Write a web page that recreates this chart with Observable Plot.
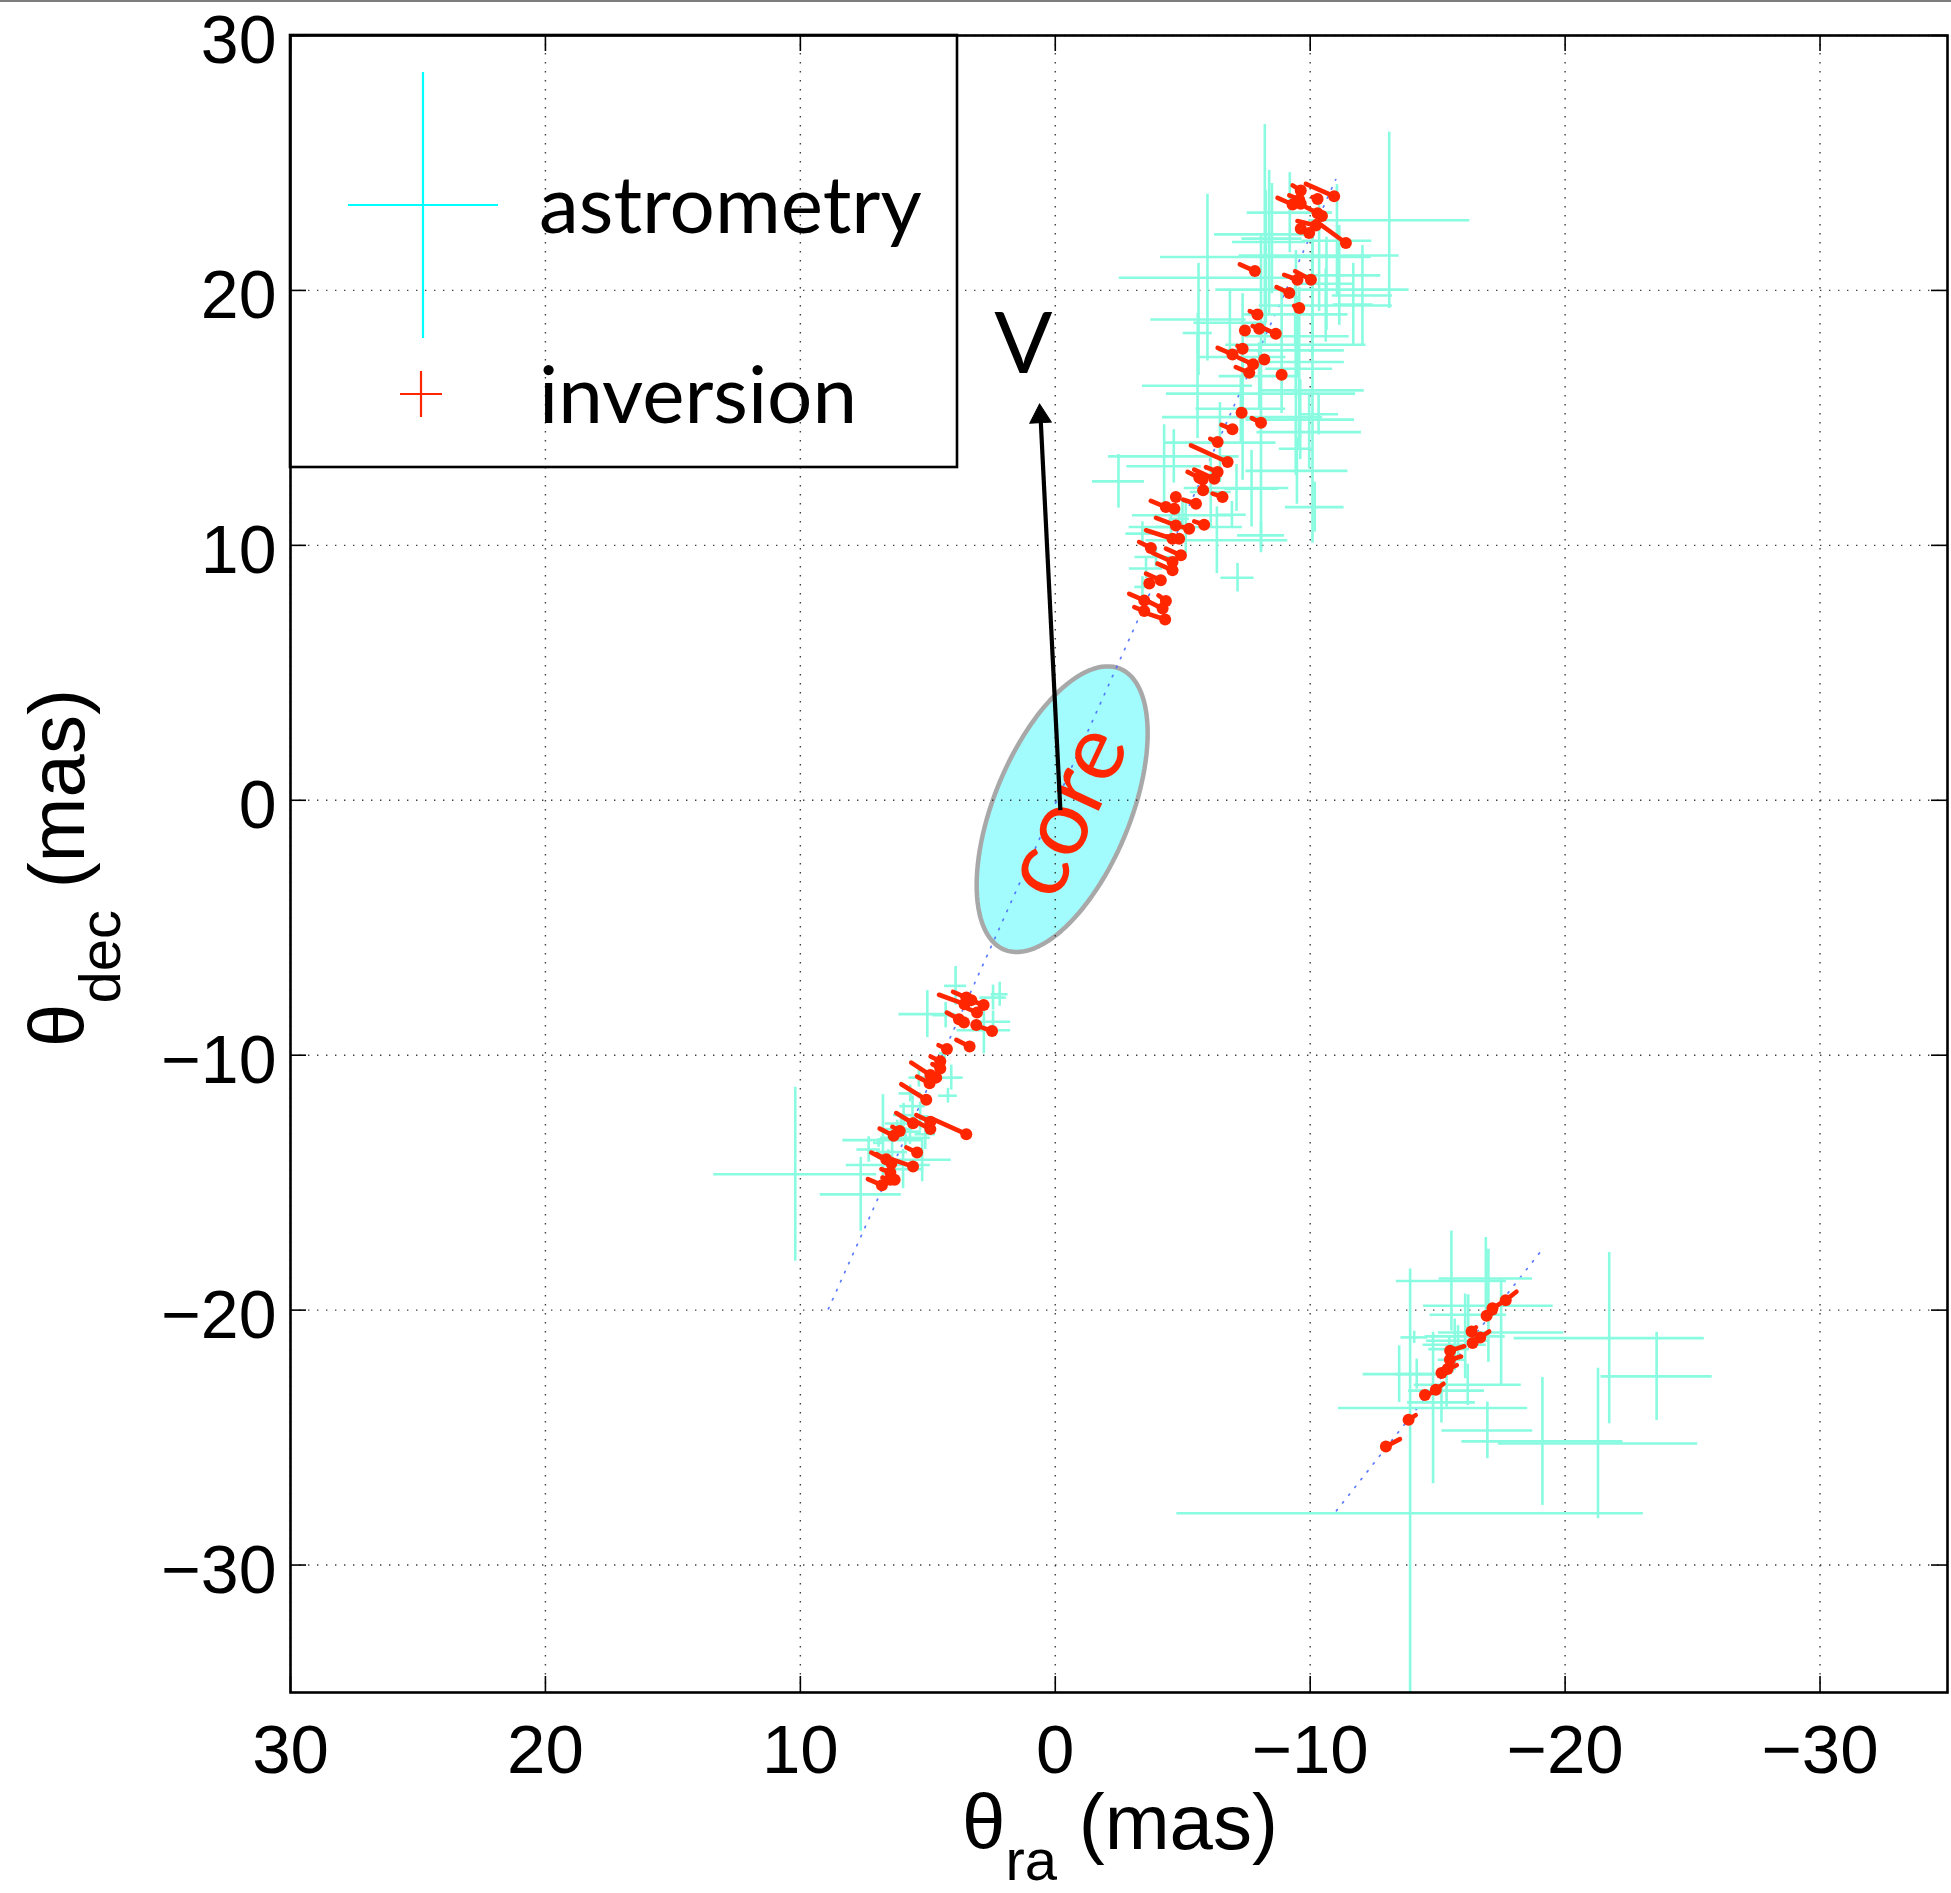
<!DOCTYPE html>
<html><head><meta charset="utf-8">
<script src="https://cdn.jsdelivr.net/npm/d3@7"></script>
<script src="https://cdn.jsdelivr.net/npm/@observablehq/plot@0.6"></script>
<style>
html,body{margin:0;padding:0;background:#fff;}
#wrap{position:relative;width:1951px;height:1893px;overflow:hidden;background:#fff;}
#wrap svg{position:absolute;left:0;top:0;}
#topline{position:absolute;left:0;top:0;width:1951px;height:2px;background:#7d7d7d;z-index:2;}
</style></head><body><div id="wrap"><div id="topline"></div></div>
<script>
// ---- axes ----
const xTicks = [30, 20, 10, 0, -10, -20, -30];
const yTicks = [30, 20, 10, 0, -10, -20, -30];
const xDomain = [30, -35];
const yDomain = [-35, 30];

// ---- astrometry crosses: [ra, dec, raErr, decErr] (mas) ----
const astroNorth = [
  [-13.10,22.75,3.16,3.46],[-8.22,22.20,1.97,4.31],[-9.20,23.05,1.67,1.57],[-10.35,21.37,3.14,2.20],
  [-8.26,21.31,4.13,2.60],[-5.97,20.50,3.46,3.27],[-11.14,20.59,1.63,1.96],[-10.09,20.03,3.79,2.60],
  [-10.61,19.41,2.61,1.44],[-9.41,19.06,2.07,1.18],[-5.62,18.86,1.87,2.20],[-6.85,18.73,1.41,1.31],
  [-5.59,18.33,0.57,0.78],[-9.50,18.20,2.03,1.57],[-9.44,17.87,2.75,2.09],[-8.88,17.65,2.46,2.48],
  [-9.44,17.19,1.90,4.38],[-8.00,16.64,1.57,1.31],[-5.58,16.26,2.16,2.07],[-8.07,15.95,3.71,6.24],
  [-10.09,16.08,2.03,6.00],[-7.28,15.36,1.76,1.31],[-7.35,15.03,3.14,2.48],[-9.61,14.93,2.13,1.57],
  [-9.96,14.44,2.05,1.44],[-6.46,14.03,2.20,1.57],[-2.48,12.51,1.02,1.05],[-4.65,13.49,2.56,1.05],
  [-4.27,13.10,1.46,1.63],[-9.48,12.92,2.00,1.31],[-10.18,11.50,1.15,0.98],[-6.93,11.20,0.56,0.52],
  [-5.12,10.72,2.22,1.05],[-6.34,10.20,2.78,1.31],[-7.70,12.22,1.05,1.50],[-11.69,19.45,0.78,1.61],
  [-12.05,19.80,1.18,1.96],[-11.05,21.95,1.37,2.20],[-8.50,22.03,1.18,2.16],[-8.39,21.90,1.44,2.81],
  [-7.35,17.39,1.70,2.48],[-9.57,16.93,1.31,3.20],[-10.33,15.14,0.78,0.81],[-10.64,20.26,1.05,1.83],
  [-7.15,8.73,0.65,0.56],[-8.07,10.39,0.92,0.52],[-7.11,12.25,2.05,0.92],[-9.44,13.79,0.65,1.05],
  [-6.10,12.09,0.80,1.37],[-3.42,10.46,0.65,0.46],[-3.95,9.54,0.82,0.39],[-3.56,9.09,0.65,0.40],
  [-3.42,8.37,0.30,0.40],[-4.54,10.72,0.60,0.50],[-4.86,11.04,0.40,0.45],[-4.99,11.18,1.96,0.60]
];
const astroSouth = [
  [10.20,-14.67,3.20,3.41],[7.63,-15.46,1.59,1.45],[6.76,-13.33,1.57,1.78],[7.32,-13.70,0.46,0.50],
  [6.93,-13.44,0.20,0.17],[5.97,-14.47,0.81,0.77],[5.22,-14.10,1.14,0.86],[5.35,-10.88,0.39,0.37],
  [5.69,-11.50,0.44,0.33],[6.05,-12.68,0.62,0.30],[5.95,-12.35,0.40,0.46],[6.55,-14.31,1.65,0.60],
  [5.88,-13.24,0.98,0.40],[3.91,-7.28,0.43,0.76],[5.02,-8.39,1.11,0.92],[4.30,-8.43,0.50,0.50],
  [2.44,-7.74,0.52,0.49],[2.18,-7.61,0.33,0.47],[2.80,-9.02,1.05,0.92],[2.44,-8.69,0.69,0.42],
  [4.08,-10.88,0.47,0.49],[4.21,-11.59,0.37,0.29],[5.60,-12.00,0.50,0.40],[5.30,-12.40,0.35,0.55],
  [6.20,-12.90,0.60,0.35],[5.70,-13.00,0.45,0.50],[5.10,-13.10,0.40,0.60],[6.40,-13.80,0.60,0.45],
  [4.34,-9.93,0.20,0.20]
];
const astroSouthEast = [
  [-13.92,-27.97,9.15,9.58],[-21.29,-25.23,3.91,2.95],[-21.73,-21.10,3.73,3.36],[-23.59,-22.60,2.18,1.73],
  [-19.11,-25.15,3.16,2.51],[-16.95,-24.72,1.78,1.11],[-16.99,-19.83,2.54,2.22],[-16.89,-18.76,1.83,1.61],
  [-15.54,-18.86,2.16,1.96],[-17.49,-20.88,2.46,2.09],[-14.82,-23.84,3.71,2.97],[-15.15,-23.62,1.33,0.81],
  [-15.35,-23.16,1.49,0.65],[-16.18,-22.93,2.10,0.81],[-13.49,-22.51,1.41,1.11],[-14.08,-21.07,0.52,0.24],
  [-16.08,-21.03,1.57,1.66],[-15.80,-21.20,1.24,0.59],[-15.67,-21.36,1.24,1.01],[-15.45,-21.53,0.80,0.52],
  [-15.58,-21.95,0.56,0.52],[-14.18,-22.51,0.78,0.59],[-16.20,-20.18,1.50,0.78]
];

// ---- inversion marks: [ra1, dec1, ra2, dec2] (mas); point 2 is the densest end ----
const invNorth = [
  [-9.31,24.12,-9.63,23.92],[-9.83,24.18,-10.94,23.69],[-9.18,23.73,-9.57,23.56],[-8.72,23.63,-9.31,23.37],
  [-9.46,23.46,-9.63,23.40],[-10.09,23.66,-10.29,23.59],[-9.83,23.27,-10.29,23.03],[-10.46,22.92,-10.46,22.92],
  [-9.50,22.72,-10.22,22.55],[-9.63,22.42,-9.63,22.42],[-9.96,22.25,-9.96,22.25],[-10.22,22.72,-11.40,21.86],
  [-7.24,21.02,-7.83,20.76],[-8.98,20.61,-9.50,20.42],[-9.41,20.75,-10.03,20.42],[-8.68,20.13,-9.18,19.90],
  [-9.37,19.39,-9.57,19.31],[-7.63,19.19,-7.93,19.06],[-7.74,18.60,-8.00,18.50],[-8.20,18.50,-8.65,18.30],
  [-7.44,18.43,-7.44,18.43],[-7.15,17.82,-7.35,17.71],[-6.37,17.75,-6.95,17.49],[-7.19,17.36,-7.76,17.10],
  [-8.20,17.29,-8.20,17.29],[-7.08,16.99,-7.61,16.77],[-8.88,16.69,-8.88,16.69],
  [-7.22,15.32,-7.31,15.20],[-7.71,14.99,-8.07,14.81],[-6.52,14.73,-6.95,14.55],[-6.08,14.18,-6.37,14.05],
  [-5.32,13.92,-6.76,13.27],[-5.45,12.97,-6.24,12.61],[-5.19,12.88,-5.65,12.65],[-5.91,13.07,-6.37,12.88],
  [-5.78,12.58,-5.78,12.58],[-5.80,12.16,-5.80,12.16],[-6.17,12.03,-6.56,11.90],[-4.73,11.90,-4.73,11.90],
  [-5.02,11.79,-5.52,11.63],[-3.75,11.74,-4.34,11.50],[-4.67,11.44,-4.67,11.44],[-3.95,11.08,-4.73,10.78],
  [-5.45,10.94,-5.84,10.81],[-4.99,10.72,-5.25,10.65],[-3.56,10.59,-4.60,10.26],[-4.41,10.35,-4.86,10.26],
  [-3.29,10.13,-3.75,9.90],[-4.34,9.87,-4.93,9.61],[-3.82,9.70,-4.60,9.35],[-4.01,9.28,-4.60,9.02],
  [-3.56,8.89,-4.14,8.63],[-3.69,8.50,-3.69,8.50],[-4.05,8.04,-4.34,7.82],[-2.90,8.10,-3.49,7.84],
  [-3.56,7.84,-4.21,7.52],[-3.10,7.58,-3.49,7.42],[-3.62,7.32,-4.31,7.09]
];
const invSouth = [
  [4.56,-7.63,3.56,-8.00],[4.01,-7.52,3.49,-7.74],[3.29,-7.84,3.29,-7.84],[3.10,-7.93,2.81,-8.03],
  [3.62,-8.09,3.07,-8.33],[4.25,-8.33,3.78,-8.59],[3.58,-8.72,3.58,-8.72],[3.10,-8.82,3.10,-8.82],
  [2.86,-8.92,2.48,-9.05],[3.88,-9.40,3.36,-9.66],[4.58,-9.61,4.25,-9.76],[4.89,-10.05,4.51,-10.24],
  [4.82,-10.35,4.51,-10.52],[5.65,-10.29,4.90,-10.78],[4.67,-10.88,4.67,-10.88],[5.42,-10.84,4.93,-11.10],
  [6.04,-11.14,5.06,-11.75],[6.24,-12.27,5.58,-12.67],[5.45,-12.35,4.90,-12.61],[4.80,-12.51,3.49,-13.10],
  [5.58,-12.54,4.90,-12.90],[6.89,-12.88,6.34,-13.16],[6.39,-12.81,6.10,-12.97],[5.84,-13.62,5.42,-13.82],
  [7.22,-13.82,6.43,-14.24],[6.63,-14.01,5.58,-14.37],[6.82,-14.47,6.47,-14.60],[6.78,-14.80,6.47,-14.89],
  [7.35,-14.86,6.80,-15.10],[6.30,-14.89,6.30,-14.89],[7.02,-13.88,6.63,-14.08]
];
const invSouthEast = [
  [-13.52,-25.06,-12.97,-25.35],[-14.14,-24.12,-13.86,-24.30],[-14.80,-23.23,-14.50,-23.33],[-15.23,-22.89,-14.93,-23.12],
  [-15.24,-22.41,-15.15,-22.47],[-15.75,-22.16,-15.39,-22.31],[-15.92,-21.82,-15.48,-21.95],[-16.04,-21.42,-15.49,-21.59],
  [-16.37,-21.29,-16.37,-21.29],[-16.50,-20.68,-16.33,-20.84],[-17.02,-20.84,-16.67,-21.07],[-17.25,-20.09,-16.92,-20.22],
  [-17.67,-19.61,-17.15,-19.93],[-18.09,-19.28,-17.67,-19.61]
];

// ---- dotted jet axis lines: [ra, dec] end points ----
const jetAxisMain = [[8.90,-19.95],[-11.00,24.35]];
const jetAxisSouthEast = [[-11.03,-27.87],[-19.01,-17.74]];

// ---- core ellipse: centre, semi-axes (mas), orientation (deg, in ra/dec space) ----
const coreEllipse = {ra:-0.27, dec:-0.35, a:5.96, b:2.67, angle:112.4};
const coreLabel = [{ra:-0.43, dec:-0.43, text:"core"}];
// ---- velocity arrow ----
const velocityArrow = [{ra1:-0.20, dec1:-0.39, ra2:0.59, dec2:15.29}];
const velocityLabel = [{ra:1.25, dec:16.75, text:"V"}];

// ---- colours ----
const CYAN = "#88fbe0", RED = "#ff2600", LEG_CYAN = "#00ffff";

// ---- tables ----
const toCross = r => ({ra:r[0], dec:r[1], raErr:r[2], decErr:r[3]});
const astro = [...astroNorth, ...astroSouth, ...astroSouthEast].map(toCross);
const toSeg = r => ({ra1:r[0], dec1:r[1], ra2:r[2], dec2:r[3]});
const inv = [...invNorth, ...invSouth, ...invSouthEast].map(toSeg);
const jetPts = [
  ...jetAxisMain.map(p => ({id:"main", ra:p[0], dec:p[1]})),
  ...jetAxisSouthEast.map(p => ({id:"se", ra:p[0], dec:p[1]}))
];
const ang = coreEllipse.angle * Math.PI / 180;
const ellipsePts = d3.range(0, 361, 3).map(t => {
  const th = t * Math.PI / 180;
  const u = coreEllipse.a * Math.cos(th), v = coreEllipse.b * Math.sin(th);
  return {ra: coreEllipse.ra + u*Math.cos(ang) - v*Math.sin(ang),
          dec: coreEllipse.dec + u*Math.sin(ang) + v*Math.cos(ang)};
});

const W = 1951, H = 1893, ML = 290, MR = 4, MT = 35, MB = 201;
const FW = W - ML - MR, FH = H - MT - MB, TICK = 16;
const fmt = d => d < 0 ? "\u2212" + Math.abs(d) : String(d);
const tickFont = "'Liberation Sans', Arial, Helvetica, sans-serif";
const labelFont = "Lato, 'Open Sans', sans-serif";

const chart = Plot.plot({
  width: W, height: H,
  marginLeft: ML, marginRight: MR, marginTop: MT, marginBottom: MB,
  style: {fontFamily: tickFont, background: "transparent", overflow: "visible", color: "black"},
  x: {domain: xDomain},
  y: {domain: yDomain},
  marks: [
    Plot.line(ellipsePts, {x: "ra", y: "dec", fill: "#a2fbfd", stroke: "#a8a8a8", strokeWidth: 4.5}),
    Plot.gridX(xTicks, {stroke: "#2a2a2a", strokeOpacity: 0.9, strokeWidth: 1.4, strokeDasharray: "1.4,7.6"}),
    Plot.gridY(yTicks, {stroke: "#2a2a2a", strokeOpacity: 0.9, strokeWidth: 1.4, strokeDasharray: "1.4,7.6"}),
    Plot.line(jetPts, {x: "ra", y: "dec", z: "id", stroke: "#4a6bff", strokeOpacity: 0.9, strokeWidth: 1.7, strokeDasharray: "1.4,8.5"}),
    Plot.ruleY(astro, {y: "dec", x1: d => d.ra - d.raErr, x2: d => d.ra + d.raErr, stroke: CYAN, strokeWidth: 2.6, clip: true}),
    Plot.ruleX(astro, {x: "ra", y1: d => d.dec - d.decErr, y2: d => d.dec + d.decErr, stroke: CYAN, strokeWidth: 2.6, clip: true}),
    Plot.link(inv, {x1: "ra1", y1: "dec1", x2: "ra2", y2: "dec2", stroke: RED, strokeWidth: 4.6, strokeLinecap: "round"}),
    Plot.dot(inv, {x: "ra2", y: "dec2", r: 6, fill: RED}),
    Plot.text(coreLabel, {x: "ra", y: "dec", text: "text", rotate: -65, fill: RED, fontSize: 92, fontFamily: labelFont, textAnchor: "middle", lineAnchor: "middle"}),
    Plot.link(velocityArrow, {x1: "ra1", y1: "dec1", x2: "ra2", y2: "dec2", stroke: "black", strokeWidth: 4.2}),
    Plot.dot(velocityArrow, {x: "ra2", y: "dec2", symbol: "triangle", r: 8, fill: "black", stroke: "black", strokeWidth: 1, rotate: -3, dy: 6}),
    Plot.text(velocityLabel, {x: "ra", y: "dec", text: "text", fill: "black", fontSize: 86, fontFamily: labelFont, textAnchor: "middle", lineAnchor: "bottom"}),
    Plot.tickX(xTicks, {x: d => d, insetTop: FH - TICK, stroke: "black", strokeWidth: 1.6}),
    Plot.tickX(xTicks, {x: d => d, insetBottom: FH - TICK, stroke: "black", strokeWidth: 1.6}),
    Plot.tickY(yTicks, {y: d => d, insetRight: FW - TICK, stroke: "black", strokeWidth: 1.6}),
    Plot.tickY(yTicks, {y: d => d, insetLeft: FW - TICK, stroke: "black", strokeWidth: 1.6}),
    Plot.axisX(xTicks, {anchor: "bottom", tickSize: 0, tickPadding: 31, fontSize: 69, tickFormat: fmt, label: null}),
    Plot.axisY(yTicks, {anchor: "left", tickSize: 0, tickPadding: 14, fontSize: 68, dy: 6, tickFormat: fmt, label: null}),
    Plot.frame({stroke: "black", strokeWidth: 2.6})
  ]
});
document.getElementById("wrap").appendChild(chart);

// ---- axis titles and legend (layout in pixels) ----
const svg = d3.select(chart);
const xt = svg.append("text").attr("x", 1120).attr("y", 1849).attr("text-anchor", "middle")
  .attr("font-family", tickFont).attr("font-size", 78).attr("fill", "black");
xt.append("tspan").text("\u03b8");
xt.append("tspan").attr("dy", 31).attr("font-size", 58).text("ra");
xt.append("tspan").attr("dy", -31).text(" (mas)");

const yt = svg.append("text").attr("transform", "translate(84,868) rotate(-90)").attr("text-anchor", "middle")
  .attr("font-family", tickFont).attr("font-size", 78).attr("fill", "black");
yt.append("tspan").text("\u03b8");
yt.append("tspan").attr("dy", 36).attr("font-size", 58).text("dec");
yt.append("tspan").attr("dy", -36).text(" (mas)");

const legendItems = [
  {label: "astrometry", color: LEG_CYAN, cx: 423, cy: 205, hw: 75, hh: 133, ty: 233},
  {label: "inversion", color: RED, cx: 421, cy: 394, hw: 21, hh: 23, ty: 423}
];
const lg = svg.append("g");
lg.append("rect").attr("x", ML).attr("y", MT).attr("width", 667).attr("height", 432)
  .attr("fill", "none").attr("stroke", "black").attr("stroke-width", 2.6);
for (const it of legendItems) {
  lg.append("line").attr("x1", it.cx - it.hw).attr("x2", it.cx + it.hw).attr("y1", it.cy).attr("y2", it.cy)
    .attr("stroke", it.color).attr("stroke-width", 2.2);
  lg.append("line").attr("x1", it.cx).attr("x2", it.cx).attr("y1", it.cy - it.hh).attr("y2", it.cy + it.hh)
    .attr("stroke", it.color).attr("stroke-width", 2.2);
  lg.append("text").attr("x", 539).attr("y", it.ty).attr("text-anchor", "start")
    .attr("font-family", labelFont).attr("font-size", 80).attr("fill", "black").text(it.label);
}
</script></body></html>
